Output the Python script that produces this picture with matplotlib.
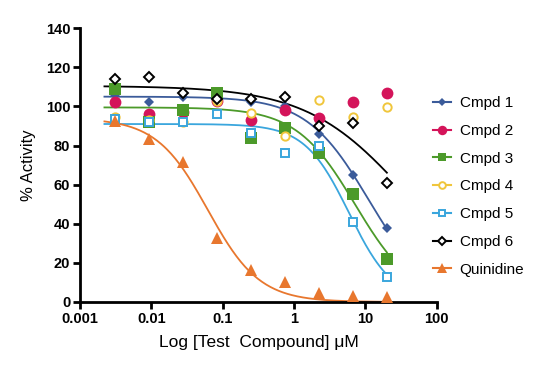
import numpy as np
import matplotlib
matplotlib.use("Agg")
import matplotlib.pyplot as plt

plt.rcParams["font.family"] = ["Liberation Sans", "DejaVu Sans"]

# 3-fold dilution series, uM
conc = [0.00305, 0.00914, 0.0274, 0.0823, 0.247, 0.741, 2.22, 6.67, 20.0]

cmpd1 = [106, 102, 105, 104, 102, 100, 86, 65, 38]
cmpd2 = [102, 96, 97, 103, 93, 98, 94, 102, 107]
cmpd3 = [109, 92, 98, 107, 84, 89, 76, 55, 22]
cmpd4 = [94.5, 93, 92, 103, 96.5, 85, 103.5, 94.5, 99.5]
cmpd5 = [93.5, 92, 92, 96, 86.5, 76, 80, 41, 13]
cmpd6 = [114, 115, 107, 104, 104, 105, 90, 91.5, 61]
quinidine = [92.5, 83.5, 71.5, 32.5, 16.5, 10, 4.5, 3, 2.5]

names = ["Cmpd 1", "Cmpd 2", "Cmpd 3", "Cmpd 4", "Cmpd 5", "Cmpd 6", "Quinidine"]
series = [cmpd1, cmpd2, cmpd3, cmpd4, cmpd5, cmpd6, quinidine]
colors = ["#3B5B9A", "#D4145A", "#4C9A2A", "#F0C63C", "#3AA6DD", "#000000", "#E8772E"]

# 4PL fit parameters: (top, bottom, IC50 uM, hill); None = no fit drawn
fits = [
    (105, 0, 11.0, 1.0),
    None,
    (99.5, 0, 7.2, 1.05),
    None,
    (91, 0, 5.9, 1.4),
    (110.5, 0, 38.0, 0.62),
    (94, 0, 0.062, 1.2),
]

markers = [
    dict(marker="D", ms=5, mfc="#3B5B9A", mew=0),
    dict(marker="o", ms=8.5, mfc="#D4145A", mew=0),
    dict(marker="s", ms=8, mfc="#4C9A2A", mew=0),
    dict(marker="o", ms=6, mfc="white", mew=1.4),
    dict(marker="s", ms=6.2, mfc="white", mew=1.4),
    dict(marker="D", ms=5.5, mfc="white", mew=1.4),
    dict(marker="^", ms=9, mfc="#E8772E", mew=0),
]


def hill(x, top, bottom, ic50, h):
    return bottom + (top - bottom) / (1 + (x / ic50) ** h)


fig = plt.figure(figsize=(5.48, 3.66), dpi=100)
ax = fig.add_axes([0.146, 0.175, 0.651, 0.748])

xs = np.logspace(np.log10(0.0022), np.log10(20), 200)
handles = []
for name, ys, c, mk, fit in zip(names, series, colors, markers, fits):
    if fit is not None:
        ax.plot(xs, hill(xs, *fit), color=c, lw=1.3, zorder=2)
    ax.plot(conc, ys, ls="none", color=c, mec=c, zorder=3, **mk)
    h, = plt.plot([], [], color=c, lw=1.5, mec=c,
                  **{**mk, "ms": mk["ms"] * 0.8})
    handles.append(h)

ax.set_xscale("log")
ax.set_xlim(0.001, 100)
ax.set_ylim(0, 140)
ax.set_xticks([0.001, 0.01, 0.1, 1, 10, 100])
ax.set_xticklabels(["0.001", "0.01", "0.1", "1", "10", "100"])
ax.minorticks_off()
ax.set_yticks(range(0, 141, 20))

for s in ["top", "right"]:
    ax.spines[s].set_visible(False)
for s in ["left", "bottom"]:
    ax.spines[s].set_linewidth(2)
ax.tick_params(width=2, length=5, labelsize=10.5, pad=2)
for lab in ax.get_xticklabels() + ax.get_yticklabels():
    lab.set_fontweight("bold")

ax.set_xlabel("Log [Test  Compound] \u03bcM", fontsize=12.5, labelpad=7)
ax.set_ylabel("% Activity", fontsize=12, labelpad=7)

fig.legend(handles=handles, labels=names, loc="upper left",
           bbox_to_anchor=(0.765, 0.775), frameon=False, fontsize=11,
           handlelength=1.2, handletextpad=0.55, labelspacing=0.9)

fig.savefig("out.png", dpi=100)
